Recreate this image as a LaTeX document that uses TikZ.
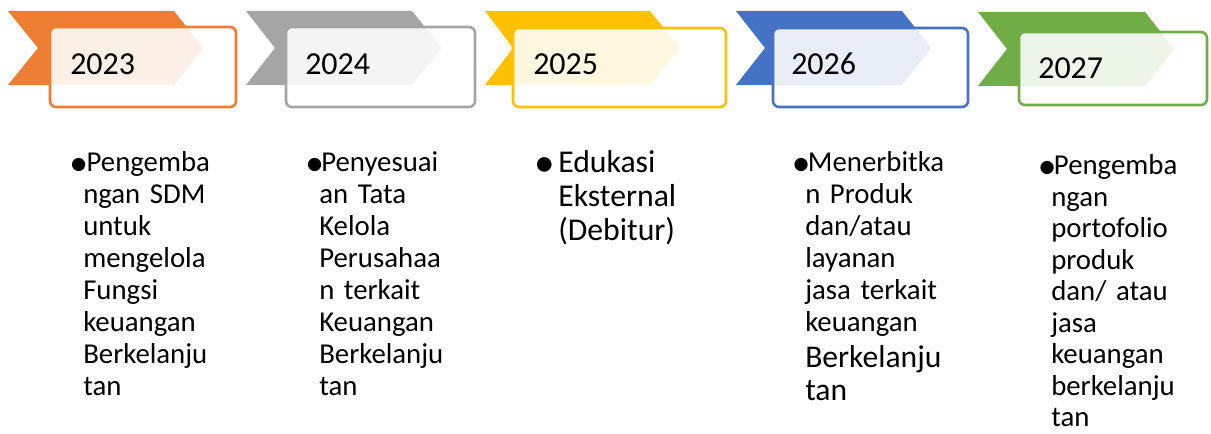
\documentclass[tikz,border=0pt]{standalone}
\usepackage{fontspec}
\setmainfont{Carlito}
\usetikzlibrary{fit}
\definecolor{cOrange}{HTML}{ED7D31}
\definecolor{cGray}{HTML}{A5A5A5}
\definecolor{cYellow}{HTML}{FFC000}
\definecolor{cBlue}{HTML}{4472C4}
\definecolor{cGreen}{HTML}{70AD47}
\newcommand\bulglyph{\raisebox{-0.11em}{\scalebox{1.3}{•}}}
% #1: distance from bullet box left to text column left, #2: extra indent of first line
\newcommand\bulat[2]{\noindent\llap{\makebox[#1][l]{\bulglyph}}\hspace*{#2}}
\tikzset{
  chev/.style={fill=#1, draw=none},
  yearbox/.style={draw=#1, line width=1.9pt, rounded corners=4.5pt, fill=white, fill opacity=0.88, inner sep=0pt},
  yeartext/.style={anchor=base west, inner sep=0pt, font=\fontsize{24pt}{28pt}\selectfont},
  bullettext/.style={anchor=base west, inner sep=0pt, text width=170pt, align=left,
    font=\fontsize{21.6pt}{23.9pt}\selectfont},
}
\begin{document}
\begin{tikzpicture}[x=0.75pt,y=-0.75pt]
\useasboundingbox (0,0) rectangle (1211,434);
% chevrons
\path[chev=cOrange] (8,11) -- (174,11) -- (203,48) -- (174,85) -- (8,85) -- (38,48) -- cycle;
\path[chev=cGray] (246,11) -- (412,11) -- (442,48) -- (412,85) -- (246,85) -- (275,48) -- cycle;
\path[chev=cYellow] (485,11) -- (650,11) -- (680,48) -- (650,85) -- (485,85) -- (513,48) -- cycle;
\path[chev=cBlue] (736,11) -- (902,11) -- (931,48) -- (902,85) -- (736,85) -- (765,48) -- cycle;
\path[chev=cGreen] (978,12) -- (1145,12) -- (1174,49) -- (1145,86) -- (978,86) -- (1007,49) -- cycle;
% boxes
\node[yearbox=cOrange, fit={(50,27) (236,107)}] (b1) {};
\node[yearbox=cGray, fit={(286,27) (475,107)}] (b2) {};
\node[yearbox=cYellow, fit={(513,28) (726,107)}] (b3) {};
\node[yearbox=cBlue, fit={(773,28) (968,107)}] (b4) {};
\node[yearbox=cGreen, fit={(1019,32) (1207,105)}] (b5) {};
% years
\node[yeartext] (y1) at (70,75) {2023};
\node[yeartext] (y2) at (305,75) {2024};
\node[yeartext] (y3) at (533,75) {2025};
\node[yeartext] (y4) at (791,75) {2026};
\node[yeartext] (y5) at (1038,79) {2027};
% bullet texts
\node[bullettext] (t1) at (83,172) {\bulat{10.5pt}{2.5pt}Pengemba\\ngan SDM\\untuk\\mengelola\\Fungsi\\keuangan\\Berkelanju\\tan};
\node[bullettext] (t2) at (319,172) {\bulat{10.5pt}{1.5pt}Penyesuai\\an Tata\\Kelola\\Perusahaa\\n terkait\\Keuangan\\Berkelanju\\tan};
\node[bullettext, font=\fontsize{23.8pt}{25.5pt}\selectfont] (t3) at (558,173) {\bulat{18pt}{0pt}Edukasi\\Eksternal\\(Debitur)};
\node[bullettext] (t4) at (805,172) {\bulat{10pt}{2pt}Menerbitka\\n Produk\\dan/atau\\layanan\\jasa terkait\\keuangan\\[2.4pt]{\fontsize{23.7pt}{24.5pt}\selectfont Berkelanju\\[0.9pt]tan}};
\node[bullettext, font=\fontsize{21.6pt}{23.6pt}\selectfont] (t5) at (1051,175) {\bulat{10pt}{2pt}Pengemba\\ngan\\portofolio\\produk\\dan/ atau\\jasa\\keuangan\\berkelanju\\tan};
\end{tikzpicture}
\end{document}
